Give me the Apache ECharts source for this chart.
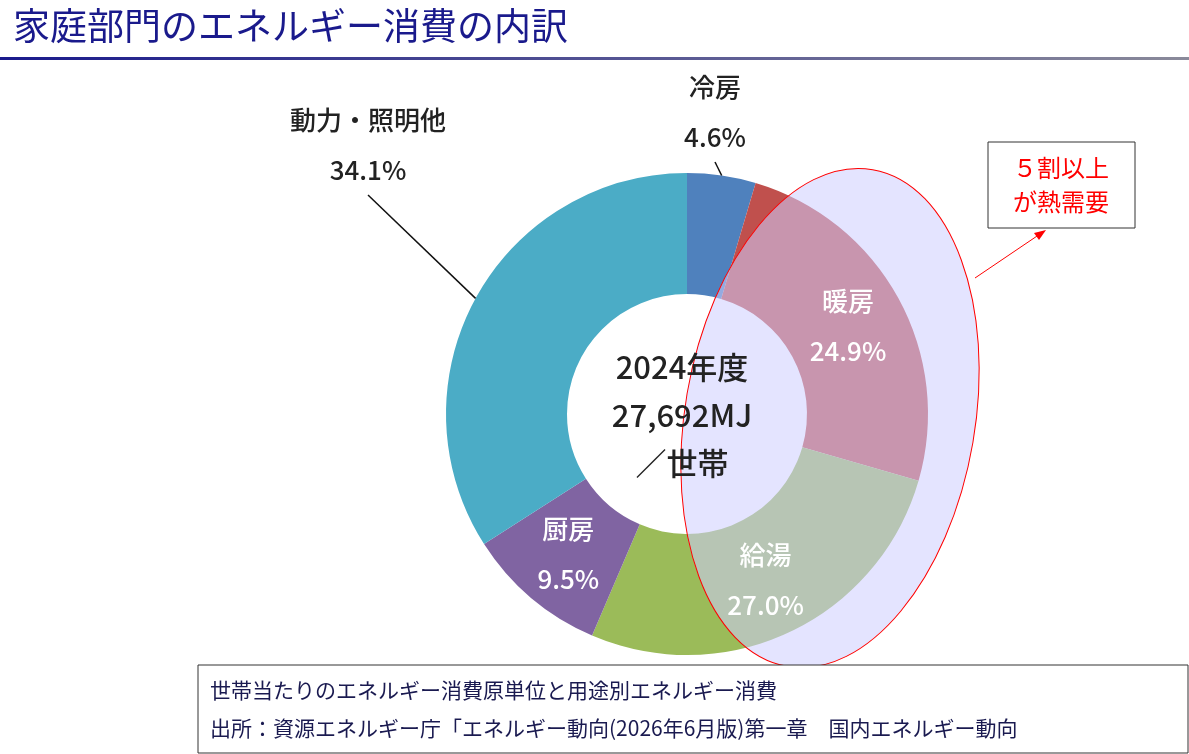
<!DOCTYPE html>
<html><head><meta charset="utf-8">
<script src="https://cdn.jsdelivr.net/npm/echarts@6/dist/echarts.min.js"></script>
<style>html,body{margin:0;padding:0;background:#fff}#c{width:1189px;height:754px}</style>
</head><body><div id="c"></div>
<script>
var names = ["冷房","暖房","給湯","厨房","動力・照明他"];
var values = [4.6, 24.9, 27.0, 9.5, 34.1];
var colors = ["#4f81bd","#c0504d","#9bbb59","#8064a2","#4bacc6"];
var insideIdx = [1,2,3];
var outsidePos = {0:[715,112], 4:[368,145]};

var chart = echarts.init(document.getElementById("c"));
var font = "'Noto Sans CJK JP', sans-serif";
var data = names.map(function(n,i){ return {name:n, value:values[i], itemStyle:{color:colors[i]}}; });
var labelData = names.map(function(n,i){
	var inside = insideIdx.indexOf(i) >= 0;
	return {name:n, value:values[i],
		label:{show:true, position: inside ? "inside" : "outside", color: inside ? "#fff" : "#222"},
		labelLine:{show:!inside, length:40, length2:0, lineStyle:{color:"#111", width:1.5}}};
});

chart.setOption({
	animation:false,
	title:{text:"家庭部門のエネルギー消費の内訳", left:8, top:2,
		textStyle:{fontFamily:font, fontSize:37, fontWeight:"normal", color:"#1a1a8c"}},
	graphic:[
		{type:"rect", shape:{x:0,y:57,width:1189,height:3}, style:{fill:new echarts.graphic.LinearGradient(0,0,1,0,[{offset:0,color:"#1a1a8c"},{offset:1,color:"#8a8a9a"}])}},
		{type:"ellipse", z:10, x:830, y:418, rotation:-0.17, shape:{cx:0,cy:0,rx:145,ry:252},
			style:{fill:"rgba(205,205,255,0.55)", stroke:"#ff0000", lineWidth:1}},
		{type:"rect", z:10, shape:{x:988,y:142,width:147,height:86}, style:{fill:"#fff", stroke:"#333", lineWidth:1}},
		{type:"text", z:11, x:1061, y:185, style:{text:"５割以上\nが熱需要", fill:"#ff0000", font:"24px "+font, align:"center", verticalAlign:"middle", lineHeight:34}},
		{type:"line", z:11, shape:{x1:975,y1:278,x2:1043,y2:232}, style:{stroke:"#ff0000", lineWidth:1}},
		{type:"polygon", z:11, shape:{points:[[1046,230],[1034,233],[1039,240]]}, style:{fill:"#ff0000"}},
		{type:"text", z:12, x:682, y:415, style:{text:"2024年度\n27,692MJ\n／世帯", fill:"#222", font:"500 31px "+font, align:"center", verticalAlign:"middle", lineHeight:48}},
		{type:"rect", z:10, shape:{x:198,y:665,width:990,height:88}, style:{fill:"#fff", stroke:"#333", lineWidth:1}},
		{type:"text", z:11, x:210, y:690, style:{text:"世帯当たりのエネルギー消費原単位と用途別エネルギー消費", fill:"#1a1a50", font:"21px "+font, verticalAlign:"middle"}},
		{type:"text", z:11, x:210, y:728, style:{text:"出所：資源エネルギー庁「エネルギー動向(2026年6月版)第一章　国内エネルギー動向", fill:"#1a1a50", font:"21px "+font, verticalAlign:"middle"}}
	],
	series:[
		{type:"pie", z:2, center:[687,414], radius:[120,241], startAngle:90, clockwise:true,
			label:{show:false}, labelLine:{show:false}, data:data},
		{type:"pie", z:20, center:[687,414], radius:[120,241], startAngle:90, clockwise:true, silent:true,
			itemStyle:{color:"rgba(0,0,0,0)"},
			label:{formatter:function(p){ return p.name + "\n" + p.value.toFixed(1) + "%"; },
				fontFamily:font, fontSize:26, fontWeight:500, lineHeight:50},
			labelLayout:function(p){
				var pos = outsidePos[p.dataIndex];
				if(pos) return {x:pos[0], y:pos[1], align:"center", verticalAlign:"middle"};
				return {};
			},
			data:labelData}
	]
});
</script></body></html>
